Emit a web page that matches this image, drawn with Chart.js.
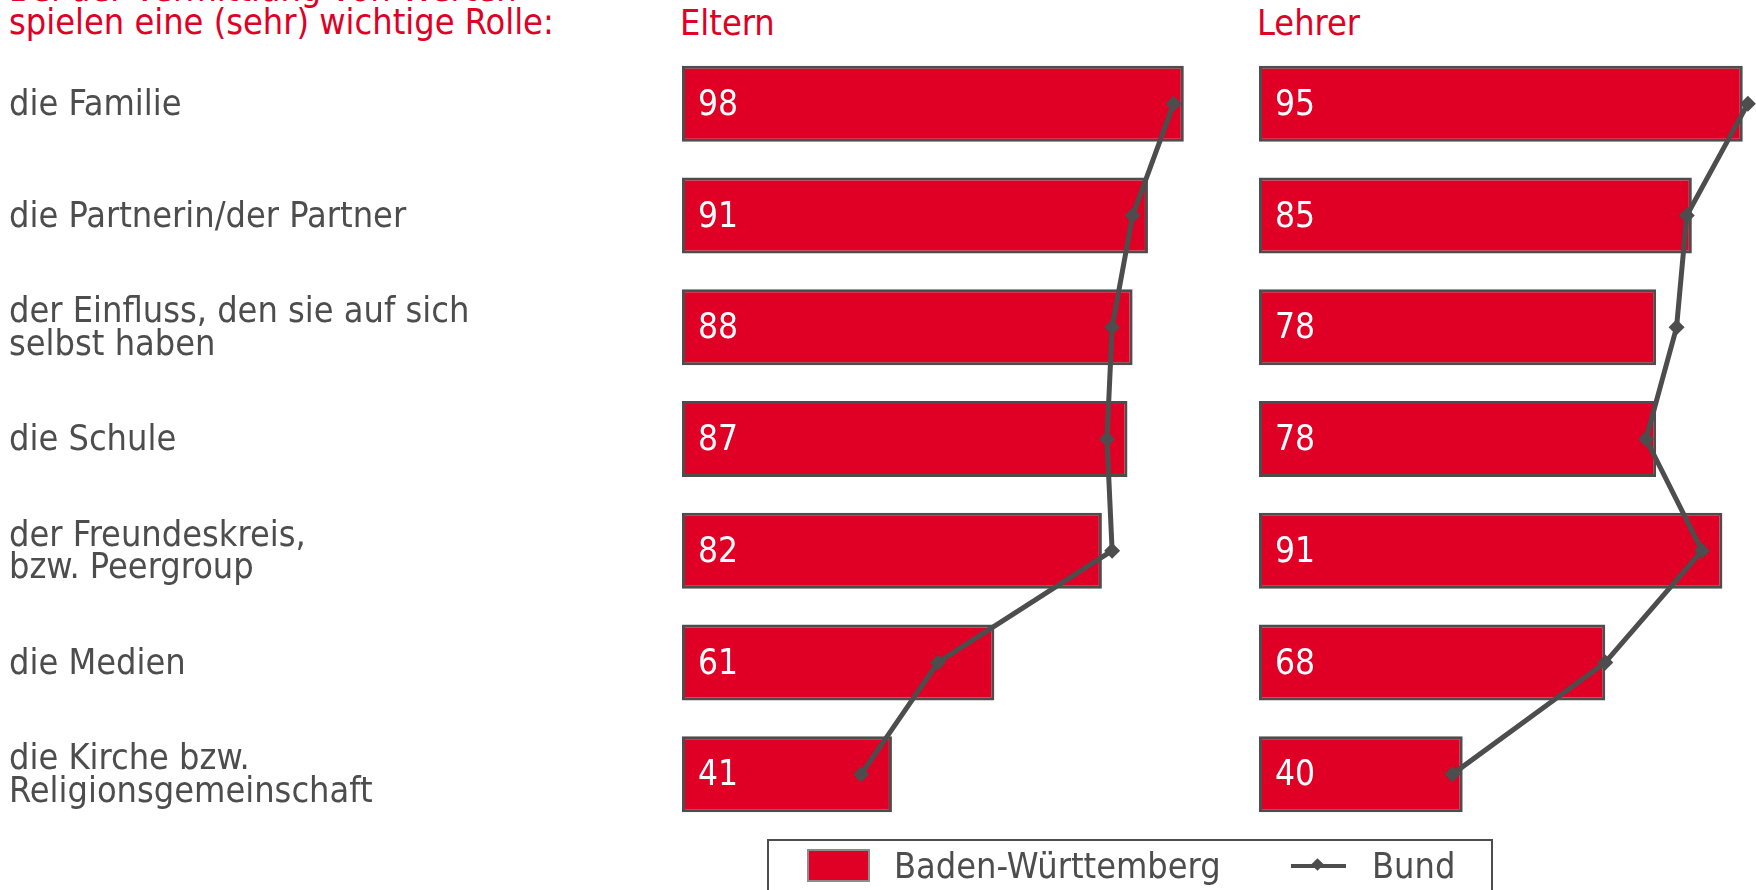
<!DOCTYPE html>
<html>
<head>
<meta charset="utf-8">
<script src="https://cdn.jsdelivr.net/npm/chart.js@4.4.1/dist/chart.umd.min.js"></script>
<style>
  html, body { margin:0; padding:0; background:#fff; overflow:hidden; }
  body { width:1756px; height:890px; position:relative; font-family:"DejaVu Sans Condensed","DejaVu Sans",sans-serif; }
  .abs { position:absolute; white-space:nowrap; }
  .red { color:#E00025; }
  #q { left:9px; top:-27px; font-size:35.8px; line-height:32.5px; }
  .ptitle { top:3px; font-size:35.8px; line-height:40px; }
  #legend { left:767px; top:839px; width:726px; height:70px; border:2px solid #4d4d4d; box-sizing:border-box; }
  #sw { left:807px; top:849px; width:59px; height:29px; background:#E00025; border:2px solid #8c8c8c; }
  .ltxt { top:845px; font-size:35.8px; line-height:42px; color:#4d4d4d; }
  #lline { left:1291px; top:864px; width:55px; height:4px; background:#4d4d4d; }
  #ldia { left:1313px; top:860px; width:9px; height:9px; background:#4d4d4d; transform:rotate(45deg); }
</style>
</head>
<body>
<div id="q" class="abs red">Bei der Vermittlung von Werten<br>spielen eine (sehr) wichtige Rolle:</div>
<div class="abs red ptitle" style="left:680px;">Eltern</div>
<div class="abs red ptitle" style="left:1257px;">Lehrer</div>

<div class="abs" style="left:0;top:0;width:1230px;height:890px;"><canvas id="c1" width="1230" height="890"></canvas></div>
<div class="abs" style="left:1240px;top:0;width:516px;height:890px;"><canvas id="c2" width="516" height="890"></canvas></div>

<div id="legend" class="abs"></div>
<div id="sw" class="abs"></div>
<div class="abs ltxt" style="left:894px;">Baden-Württemberg</div>
<div id="lline" class="abs"></div>
<div id="ldia" class="abs"></div>
<div class="abs ltxt" style="left:1372px;">Bund</div>

<script>
const categories = [
  "die Familie",
  "die Partnerin/der Partner",
  ["der Einfluss, den sie auf sich", "selbst haben"],
  "die Schule",
  ["der Freundeskreis,", "bzw. Peergroup"],
  "die Medien",
  ["die Kirche bzw.", "Religionsgemeinschaft"]
];
const elternBW   = [98, 91, 88, 87, 82, 61, 41];
const elternBund = [96, 88, 84, 83, 84, 50, 35];
const lehrerBW   = [95, 85, 78, 78, 91, 68, 40];
const lehrerBund = [96, 84, 82, 76, 87, 68, 38];

const RED = '#E00025';
const DARK = '#4d4d4d';
const FONT = '"DejaVu Sans Condensed","DejaVu Sans",sans-serif';

const valueLabels = {
  id: 'valueLabels',
  afterDatasetsDraw(chart) {
    const ctx = chart.ctx;
    chart.data.datasets.forEach((ds, i) => {
      if (ds.type !== 'bar') return;
      const meta = chart.getDatasetMeta(i);
      ctx.save();
      ctx.fillStyle = '#ffffff';
      ctx.font = '35px ' + FONT;
      ctx.textAlign = 'left';
      ctx.textBaseline = 'middle';
      meta.data.forEach((el, j) => {
        ctx.fillText(String(ds.data[j]), el.base + 16, el.y + 2);
      });
      ctx.restore();
    });
  }
};

function makeChart(id, bw, bund, opts) {
  return new Chart(document.getElementById(id), {
    data: {
      labels: categories,
      datasets: [
        {
          type: 'line', label: 'Bund', data: bund, order: 1,
          borderColor: DARK, borderWidth: 5, backgroundColor: DARK,
          pointStyle: 'rectRot', pointRadius: 8, pointBackgroundColor: DARK, pointBorderColor: DARK,
          pointBorderWidth: 0, clip: false, tension: 0
        },
        {
          type: 'bar', label: 'Baden-Württemberg', data: bw, order: 2,
          backgroundColor: RED, borderColor: DARK, borderWidth: 3, borderSkipped: false,
          categoryPercentage: 0.68, barPercentage: 1
        }
      ]
    },
    options: {
      indexAxis: 'y',
      responsive: false,
      animation: false,
      devicePixelRatio: 1,
      layout: { padding: opts.padding, autoPadding: false },
      plugins: { legend: { display: false }, tooltip: { enabled: false } },
      scales: {
        x: { display: false, min: 0, max: opts.max },
        y: opts.y
      }
    },
    plugins: [valueLabels]
  });
}

makeChart('c1', elternBW, elternBund, {
  padding: { left: 9, top: 48, bottom: 60, right: 38 },
  max: 99.6,
  y: {
    display: true,
    grid: { display: false },
    border: { display: false },
    afterFit(scale) { scale.width = 673; },
    ticks: {
      crossAlign: 'far',
      color: DARK,
      font: { family: FONT, size: 35.8, lineHeight: 0.91 },
      padding: 0,
      labelOffset: 2
    }
  }
});

makeChart('c2', lehrerBW, lehrerBund, {
  padding: { left: 19, top: 48, bottom: 60, right: 0 },
  max: 97.6,
  y: { display: false }
});
</script>
</body>
</html>
